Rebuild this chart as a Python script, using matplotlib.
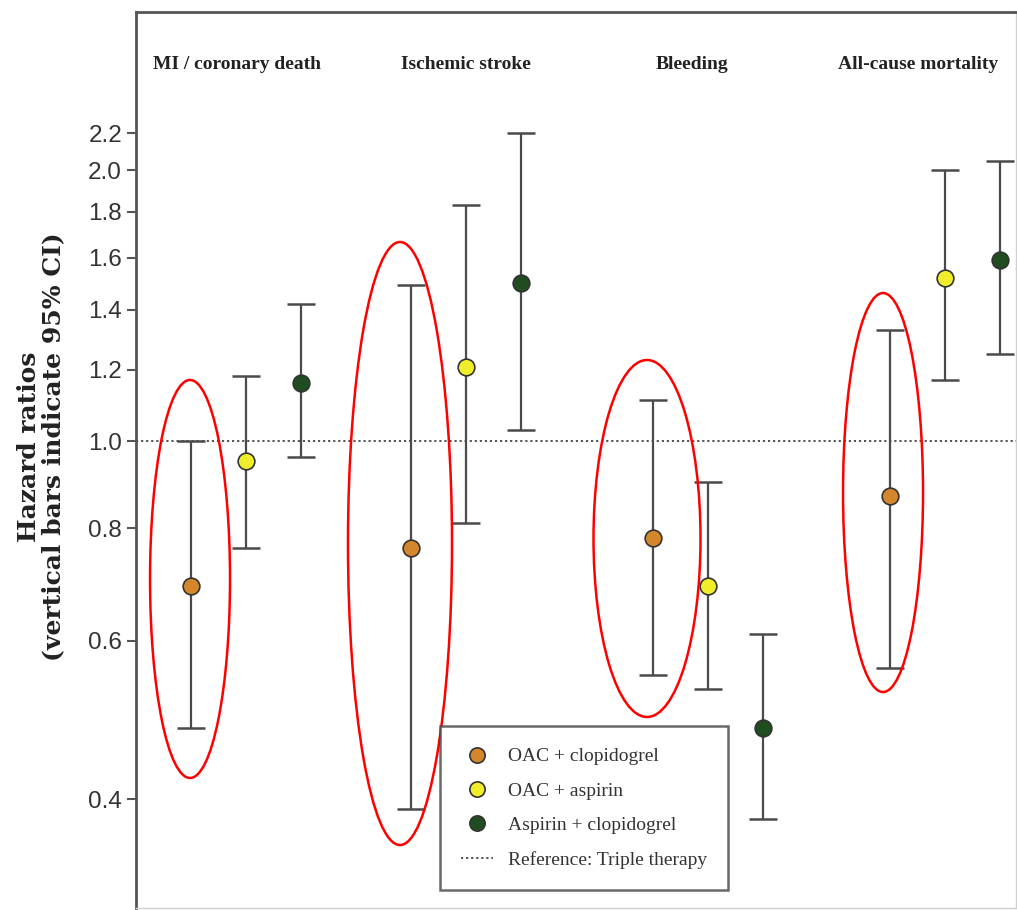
import numpy as np
import matplotlib
matplotlib.use('Agg')
import matplotlib.pyplot as plt
from matplotlib.patches import Ellipse
from matplotlib.lines import Line2D

# outcomes and treatments
outcomes = ['MI / coronary death', 'Ischemic stroke', 'Bleeding', 'All-cause mortality']
treatments = ['OAC + clopidogrel', 'OAC + aspirin', 'Aspirin + clopidogrel']
colors = ['#d4862a', '#f0ee2a', '#1f4d1f']

# hazard ratios, rows = outcomes, cols = treatments
hr = [[0.69, 0.95, 1.16],
      [0.76, 1.21, 1.50],
      [0.78, 0.69, 0.48],
      [0.87, 1.52, 1.59]]
ci_low = [[0.48, 0.76, 0.96],
          [0.39, 0.81, 1.03],
          [0.55, 0.53, 0.38],
          [0.56, 1.17, 1.25]]
ci_high = [[1.00, 1.18, 1.42],
           [1.49, 1.83, 2.20],
           [1.11, 0.90, 0.61],
           [1.33, 2.00, 2.05]]

yticks = [0.4, 0.6, 0.8, 1.0, 1.2, 1.4, 1.6, 1.8, 2.0, 2.2]

# layout
group_pos = [110, 330, 572, 809]
offsets = [-55, 0, 55]
title_shift = [-9, 0, -16, -27]
# red highlight ellipses (axes fraction: cx, cy, w, h)
highlight = [(0.0614, 0.3672, 0.0909, 0.4442),
             (0.3000, 0.4068, 0.1182, 0.6730),
             (0.5807, 0.4124, 0.1216, 0.3984),
             (0.8489, 0.4637, 0.0909, 0.4453)]

fig = plt.figure(figsize=(10.17, 9.10), dpi=100)
ax = fig.add_axes([136/1017, 2/910, 880/1017, 896/910])

ax.set_yscale('log')
ax.set_ylim(0.3026, 3.0)
ax.set_xlim(0, 880)

# reference line
ax.axhline(1.0, color='#444444', linestyle=(0, (1.2, 1.6)), linewidth=1.3, zorder=1)

hr = np.array(hr)
lo = np.array(ci_low)
hi = np.array(ci_high)
for i in range(len(outcomes)):
    for j in range(len(treatments)):
        x = group_pos[i] + offsets[j]
        ax.errorbar(x, hr[i, j], yerr=[[hr[i, j] - lo[i, j]], [hi[i, j] - hr[i, j]]],
                    fmt='none', ecolor='#4a4a4a', elinewidth=1.6, capsize=10, capthick=1.8, zorder=2)
        ax.plot(x, hr[i, j], marker='o', markersize=12, markerfacecolor=colors[j],
                markeredgecolor='#333333', markeredgewidth=1.2, linestyle='none', zorder=3)
    ax.text(group_pos[i] + title_shift[i], 0.941, outcomes[i], transform=ax.get_xaxis_transform(),
            ha='center', va='center', fontsize=14, fontweight='bold', family='Liberation Serif',
            color='#222222')

for cx, cy, w, h in highlight:
    ax.add_patch(Ellipse((cx, cy), w, h, transform=ax.transAxes, fill=False,
                         edgecolor='#ff0000', linewidth=1.8, zorder=4))

ax.set_yticks(yticks)
ax.set_yticklabels(['%.1f' % t for t in yticks], family='Liberation Sans', fontsize=17.5, color='#333333')
ax.yaxis.set_minor_locator(matplotlib.ticker.NullLocator())
ax.tick_params(axis='y', direction='out', length=6.5, width=1.5, color='#555555', pad=3.5)
ax.set_xticks([])

for s in ['top', 'left']:
    ax.spines[s].set_color('#555555')
    ax.spines[s].set_linewidth(2)
for s in ['bottom', 'right']:
    ax.spines[s].set_color('#d0d0d0')
    ax.spines[s].set_linewidth(1)

fig.text(41/1017, 0.509, 'Hazard ratios\n(vertical bars indicate 95% CI)', rotation=90,
         ha='center', va='center', fontsize=18, fontweight='bold', family='DejaVu Serif',
         linespacing=1.0, color='#222222')

handles = [Line2D([], [], marker='o', linestyle='none', markersize=11, markerfacecolor=c,
                  markeredgecolor='#333333', markeredgewidth=1.2) for c in colors]
handles.append(Line2D([], [], color='#444444', linestyle=(0, (1.2, 1.6)), linewidth=1.3))
labels = treatments + ['Reference: Triple therapy']
leg = ax.legend(handles, labels, loc='lower left', bbox_to_anchor=(0.3455, 0.020), borderaxespad=0,
                prop={'family': 'Liberation Serif', 'size': 14}, frameon=True, fancybox=False,
                shadow=False, labelspacing=0.86, handlelength=1.6, handletextpad=0.77,
                borderpad=1.1)
leg.get_frame().set_edgecolor('#444444')
leg.get_frame().set_linewidth(1.8)
for t in leg.get_texts():
    t.set_color('#333333')

plt.savefig('out.png', dpi=100)
